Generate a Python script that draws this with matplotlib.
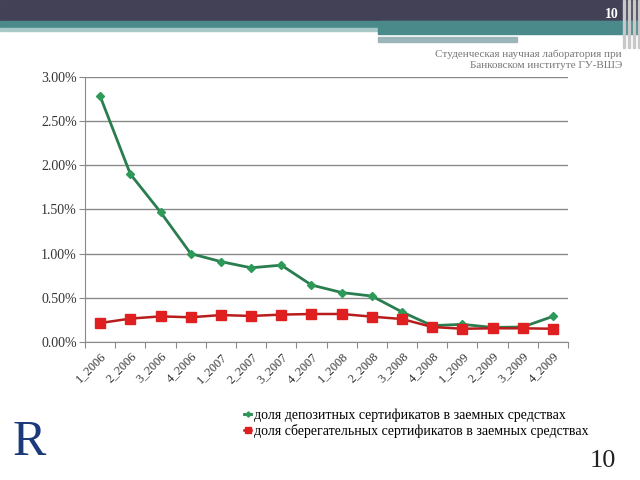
import matplotlib.pyplot as plt
import matplotlib.patches as patches
import numpy as np

plt.rcParams['font.family'] = ['Liberation Serif', 'DejaVu Serif']

# Data (shares, %)
quarters = ['1_2006', '2_2006', '3_2006', '4_2006', '1_2007', '2_2007', '3_2007', '4_2007',
            '1_2008', '2_2008', '3_2008', '4_2008', '1_2009', '2_2009', '3_2009', '4_2009']
deposit_share = [2.78, 1.90, 1.47, 1.00, 0.91, 0.84, 0.87, 0.645,
                 0.56, 0.52, 0.34, 0.185, 0.20, 0.165, 0.17, 0.29]
savings_share = [0.215, 0.265, 0.29, 0.28, 0.305, 0.295, 0.31, 0.317,
                 0.317, 0.287, 0.26, 0.17, 0.15, 0.155, 0.155, 0.15]
legend_labels = ['доля депозитных сертификатов в заемных средствах',
                 'доля сберегательных сертификатов в заемных средствах']
y_ticks = [0.0, 0.5, 1.0, 1.5, 2.0, 2.5, 3.0]

fig = plt.figure(figsize=(6.4, 4.8), dpi=100)
fig.patch.set_facecolor('white')

# Slide decorations (pixel coords, y from top)
def band(x0, y0_px, x1, y1_px, color):
    fig.patches.append(patches.Rectangle((x0 / 640, 1 - y1_px / 480), (x1 - x0) / 640,
                                         (y1_px - y0_px) / 480, transform=fig.transFigure,
                                         color=color, zorder=0))

band(0, 0, 640, 21, '#434156')
band(0, 21, 640, 28, '#4a8a8a')
band(0, 28, 640, 31, '#a9c9c9')
band(378, 21, 640, 34, '#4a8a8a')
band(378, 37, 517, 42, '#9bb5b8')
for xv in [623, 628, 633, 638]:
    band(xv, 0, xv + 1.5, 48, '#c8c8c8')

fig.text(0.966, 1 - 14 / 480, '10', color='white', fontsize=10, fontweight='bold',
         ha='right', va='center')
fig.text(0.972, 1 - 54 / 480, 'Студенческая научная лаборатория при', color='#777777',
         fontsize=8, ha='right', va='center')
fig.text(0.972, 1 - 66 / 480, 'Банковском институте ГУ-ВШЭ', color='#777777',
         fontsize=8, ha='right', va='center')
fig.text(0.962, 1 - 461 / 480, '10', color='#222222', fontsize=19, ha='right', va='center')
fig.text(0.045, 1 - 443 / 480, 'R', color='#1c3a7a', fontsize=36, ha='center', va='center')

ax = fig.add_axes([0.133, 0.2875, 0.7545, 0.5521])
x = np.arange(len(quarters))
ax.plot(x, deposit_share, color='#2a7d4f', lw=2, marker='D', ms=4.5,
        markerfacecolor='#2e9a5a', markeredgecolor='#2e9a5a', label=legend_labels[0], zorder=3)
ax.plot(x, savings_share, color='#b81c1c', lw=1.8, marker='s', ms=6.5,
        markerfacecolor='#e02020', markeredgecolor='#e02020', label=legend_labels[1], zorder=3)

ax.set_xlim(-0.5, len(quarters) - 0.5)
ax.set_ylim(0, 3.0)
ax.set_yticks(y_ticks)
ax.set_yticklabels(['%.2f%%' % v for v in y_ticks], fontsize=10, color='#333333')
ax.yaxis.grid(True, color='#8a8a8a', lw=1)
ax.set_axisbelow(True)

ax.set_xticks(np.arange(-0.5, len(quarters), 1.0))
ax.set_xticklabels([])
ax.set_xticks(x, minor=True)
ax.set_xticklabels(quarters, minor=True, rotation=45, ha='right', va='top',
                   fontsize=9, color='#333333', rotation_mode='anchor')
ax.tick_params(axis='x', which='minor', length=0, pad=6)
ax.tick_params(axis='x', which='major', length=4, color='#8a8a8a')
ax.tick_params(axis='y', length=4, color='#8a8a8a', pad=2)

for s in ['top', 'right']:
    ax.spines[s].set_visible(False)
for s in ['left', 'bottom']:
    ax.spines[s].set_color('#8a8a8a')

ax.legend(loc='upper left', bbox_to_anchor=(0.382, 1 - 408 / 480), bbox_transform=fig.transFigure,
          frameon=False, fontsize=10, handlelength=0.5, handletextpad=0.2,
          labelspacing=0.2, borderaxespad=0, borderpad=0, markerscale=0.6)

fig.savefig('out.png', dpi=100, facecolor='white')
plt.close(fig)
